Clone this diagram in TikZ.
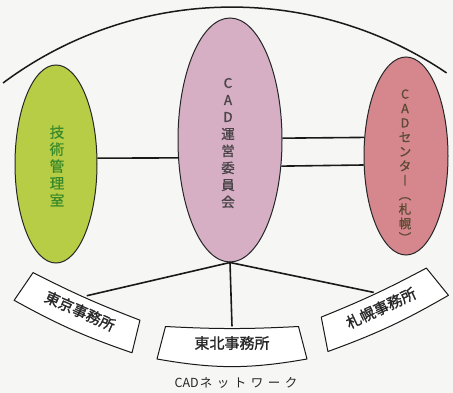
\documentclass[tikz,border=0pt]{standalone}
\usepackage{fontspec}
\setmainfont{Noto Sans CJK JP}[AutoFakeBold=1.2]
\usetikzlibrary{shapes.geometric}
\definecolor{bgc}{HTML}{F6F6F4}
\definecolor{greenfill}{HTML}{B8CD46}
\definecolor{pinkfill}{HTML}{D6AFC5}
\definecolor{redfill}{HTML}{D5878D}
\definecolor{greentext}{HTML}{3A8A2A}
\definecolor{graytext}{HTML}{4A4448}
\definecolor{browntext}{HTML}{5C4A34}
\begin{document}
\begin{tikzpicture}[x=1pt,y=-1pt,
  oval/.style={ellipse, draw=black!85, line width=1pt, inner sep=0pt},
  vtext/.style={align=center, inner sep=0pt},
  link/.style={line width=1.6pt, draw=black!90},
  frame/.style={line width=1pt, draw=black!90, line join=round},
  officebox/.style={draw=none, inner sep=0pt, font=\fontsize{15}{18}\selectfont\bfseries, text=black!85},
  arcline/.style={line width=1.5pt, draw=black!90}
]
\useasboundingbox (0,0) rectangle (453,393);
\fill[bgc] (0,0) rectangle (453,393);

% top arc
\draw[arcline] (3,83) arc[start angle=126.7, end angle=55.9, radius=383pt];

% ellipses
\node[oval, fill=greenfill, minimum width=82pt, minimum height=198pt] (tech) at (56,164) {};
\node[oval, fill=pinkfill, minimum width=104pt, minimum height=244pt] (cad) at (230,140) {};
\node[oval, fill=redfill, minimum width=84pt, minimum height=198pt] (center) at (406,156) {};

\node[vtext, text=greentext, font=\fontsize{14.5}{17}\selectfont\bfseries] (techtext) at (57,166) {技\\術\\管\\理\\室};
\node[vtext, text=graytext, font=\fontsize{13.5}{17}\selectfont\bfseries] (cadtext) at (228,143) {C\\A\\D\\運\\営\\委\\員\\会};
\node[vtext, text=browntext, font=\fontsize{12.5}{14.4}\selectfont\bfseries] (centertext) at (405,166) {C\\A\\D\\セ\\ン\\タ\\︱\\︵\\札\\幌\\︶};

% connectors between ellipses
\draw[link] (tech.8) -- (cad.199);
\draw[link] (cad.2.2) -- (center.156.5);
\draw[link] (cad.333.8) -- (center.192.2);

% office boxes
\begin{scope}[shift={(80,311)}, rotate=-24]
  \draw[frame, fill=white] (-58.5,-16) to[bend right=3] (58.5,-16) -- (64.5,17) to[bend left=5] (-64.5,17) -- cycle;
\end{scope}
\node[officebox, rotate=-24, minimum width=120pt, minimum height=33pt] (tokyo) at (80,311) {東京事務所};

\begin{scope}[shift={(232,343)}]
  \draw[frame, fill=white] (-66.5,-16.5) to[bend right=3] (66.5,-16.5) -- (75,16) to[bend left=10] (-75,16) -- cycle;
\end{scope}
\node[officebox, minimum width=140pt, minimum height=33pt] (tohoku) at (232,343) {東北事務所};

\begin{scope}[shift={(381,308)}, rotate=25]
  \draw[frame, fill=white] (-58,-17) to[bend right=3] (58,-17) -- (66.5,17) to[bend left=5] (-66.5,17) -- cycle;
\end{scope}
\node[officebox, rotate=25, minimum width=120pt, minimum height=34pt] (sapporo) at (381,308) {札幌事務所};

% connectors to offices
\draw[link] (cad.south) -- (tokyo.north);
\draw[link] (cad.south) -- (tohoku.north);
\draw[link] (cad.south) -- (sapporo.north);

% caption
\node[inner sep=0pt, font=\fontsize{12.5}{14}\selectfont, text=black!85] (caption) at (236,383)
  {CAD\hspace{1pt}ネ\hspace{4.5pt}ッ\hspace{4.5pt}ト\hspace{4.5pt}ワ\hspace{4.5pt}ー\hspace{4.5pt}ク};
\end{tikzpicture}
\end{document}
